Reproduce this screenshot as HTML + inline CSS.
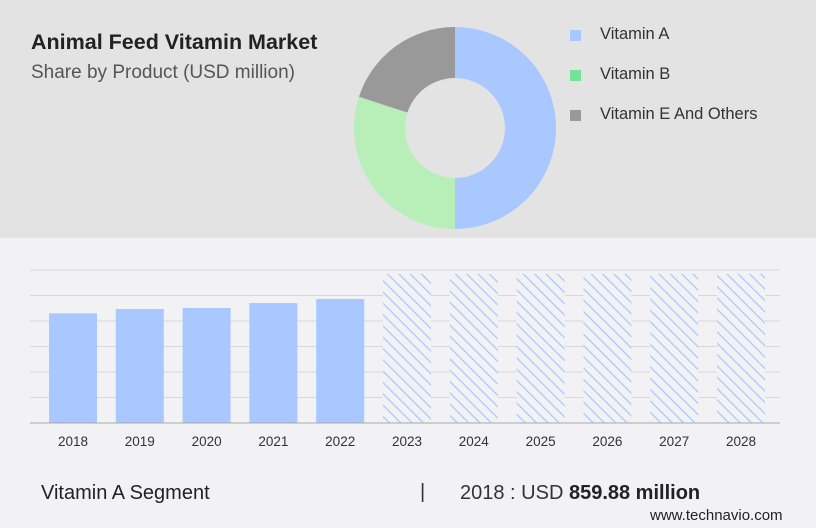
<!DOCTYPE html>
<html><head><meta charset="utf-8"><style>
body{margin:0;width:816px;height:528px;overflow:hidden;background:#f2f2f4;font-family:"Liberation Sans",sans-serif;position:relative}
.top{position:absolute;left:0;top:0;width:816px;height:238px;background:#e3e3e3}
.t{position:absolute;white-space:nowrap}
</style></head><body>
<div class="top"></div>
<div class="t" style="left:31px;top:30px;font-size:21.5px;font-weight:bold;color:#222">Animal Feed Vitamin Market</div>
<div class="t" style="left:31px;top:62px;font-size:19px;color:#555">Share by Product (USD million)</div>
<svg id="donut" width="816" height="238" style="position:absolute;left:0;top:0"></svg>
<div><div style="position:absolute;left:570px;top:30px;width:11px;height:11px;background:#a8c8ff"></div><div class="t" style="left:600px;top:25px;font-size:16.5px;color:#333">Vitamin A</div></div>
<div><div style="position:absolute;left:570px;top:70px;width:11px;height:11px;background:#74e39a"></div><div class="t" style="left:600px;top:65px;font-size:16.5px;color:#333">Vitamin B</div></div>
<div><div style="position:absolute;left:570px;top:110px;width:11px;height:11px;background:#999"></div><div class="t" style="left:600px;top:105px;font-size:16.5px;color:#333">Vitamin E And Others</div></div>
<svg id="bars" width="816" height="290" style="position:absolute;left:0;top:238px">
<defs><pattern id="hatch" width="8" height="8" patternUnits="userSpaceOnUse" patternTransform="rotate(-45)"><rect width="8" height="8" fill="#f2f2f4"/><line x1="0" y1="0" x2="0" y2="8" stroke="#a8c8ff" stroke-width="2.5"/></pattern></defs>
</svg>
<div class="t" style="left:41px;top:482px;font-size:20px;color:#222">Vitamin A Segment</div>
<div class="t" style="left:420px;top:481px;font-size:20px;color:#333">|</div>
<div class="t" style="left:460px;top:482px;font-size:20px;color:#333">2018 : USD <b style="color:#222">859.88 million</b></div>
<div class="t" style="left:650px;top:507px;font-size:15px;color:#222">www.technavio.com</div>
<script>
const shareLabels=["Vitamin A","Vitamin B","Vitamin E And Others"];
const shareValues=[50,30,20];
const shareColors=["#a8c8ff","#b8eeb8","#999999"];
const years=["2018","2019","2020","2021","2022","2023","2024","2025","2026","2027","2028"];
const values=[859.88,894,902,941,973,null,null,null,null,null,null];
const forecastValue=1170;
const yMax=1200;
const NS="http://www.w3.org/2000/svg";
const d=document.getElementById('donut');
const cx=455,cy=128,R=101,r=50;
let tot=shareValues.reduce((a,b)=>a+b,0),a0=0;
shareValues.forEach((v,i)=>{
 const a1=a0+v/tot*2*Math.PI;
 const p=(a,rad)=>[cx+rad*Math.sin(a),cy-rad*Math.cos(a)];
 const [x0,y0]=p(a0,R),[x1,y1]=p(a1,R),[x2,y2]=p(a1,r),[x3,y3]=p(a0,r);
 const lg=(a1-a0)>Math.PI?1:0;
 const el=document.createElementNS(NS,'path');
 el.setAttribute('d',`M${x0},${y0}A${R},${R} 0 ${lg} 1 ${x1},${y1}L${x2},${y2}A${r},${r} 0 ${lg} 0 ${x3},${y3}Z`);
 el.setAttribute('fill',shareColors[i]);
 
 
 d.appendChild(el);a0=a1;
});
const b=document.getElementById('bars');
const base=185,top0=32,x0=30,x1=780;
const yS=v=>base-(v/yMax)*(base-top0);
for(let i=1;i<=6;i++){
 const y=base-i*(base-top0)/6;
 const l=document.createElementNS(NS,'line');
 l.setAttribute('x1',x0);l.setAttribute('x2',x1);l.setAttribute('y1',y);l.setAttribute('y2',y);
 l.setAttribute('stroke','#d8d8dc');l.setAttribute('stroke-width','1');
 
 
 b.appendChild(l);
}
const firstC=73,step=66.8;
years.forEach((yr,i)=>{
 const cxb=firstC+step*i;
 const v=values[i]==null?forecastValue:values[i];
 const rc=document.createElementNS(NS,'rect');
 rc.setAttribute('x',cxb-24);rc.setAttribute('width',48);
 rc.setAttribute('y',yS(v));rc.setAttribute('height',base-yS(v));
 rc.setAttribute('fill',values[i]==null?'url(#hatch)':'#a8c8ff');
 
 
 b.appendChild(rc);
 const t=document.createElementNS(NS,'text');
 t.setAttribute('x',cxb);t.setAttribute('y',208);t.setAttribute('text-anchor','middle');
 t.setAttribute('font-size','13.5');t.setAttribute('fill','#333');t.setAttribute('font-family','Liberation Sans, sans-serif');
 t.textContent=yr;
 
 
 b.appendChild(t);
});
const ax=document.createElementNS(NS,'line');
ax.setAttribute('x1',x0);ax.setAttribute('x2',x1);ax.setAttribute('y1',base);ax.setAttribute('y2',base);
ax.setAttribute('stroke','#aaa');


b.appendChild(ax);
</script>
</body></html>
